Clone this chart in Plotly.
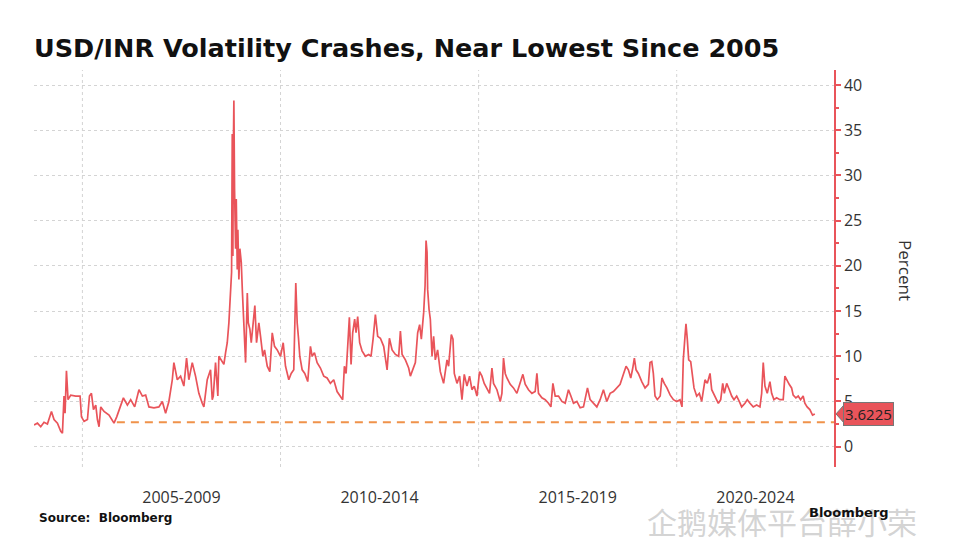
import datetime as dt
import plotly.graph_objects as go

# ---------------- data ----------------
years = [
    2003.781, 2003.867, 2003.950, 2004.033, 2004.119, 2004.185, 2004.220, 2004.285,
    2004.371, 2004.454, 2004.497, 2004.537, 2004.563, 2004.598, 2004.638, 2004.706,
    2004.832, 2004.941, 2004.976, 2005.042, 2005.127, 2005.178, 2005.228, 2005.279,
    2005.337, 2005.379, 2005.420, 2005.463, 2005.546, 2005.672, 2005.798, 2005.866,
    2005.949, 2006.035, 2006.136, 2006.219, 2006.320, 2006.428, 2006.514, 2006.597,
    2006.680, 2006.806, 2006.932, 2007.018, 2007.101, 2007.184, 2007.270, 2007.310,
    2007.396, 2007.479, 2007.562, 2007.630, 2007.688, 2007.774, 2007.857, 2007.941,
    2008.026, 2008.067, 2008.152, 2008.235, 2008.278, 2008.304, 2008.361, 2008.419,
    2008.445, 2008.530, 2008.571, 2008.614, 2008.656, 2008.697, 2008.740, 2008.765,
    2008.782, 2008.798, 2008.808, 2008.823, 2008.840, 2008.866, 2008.883, 2008.908,
    2008.924, 2008.949, 2008.974, 2009.009, 2009.035, 2009.060, 2009.093, 2009.118,
    2009.143, 2009.161, 2009.186, 2009.226, 2009.261, 2009.302, 2009.352, 2009.395,
    2009.453, 2009.496, 2009.554, 2009.597, 2009.665, 2009.730, 2009.791, 2009.849,
    2009.917, 2010.000, 2010.068, 2010.126, 2010.209, 2010.270, 2010.335, 2010.386,
    2010.421, 2010.454, 2010.487, 2010.547, 2010.613, 2010.688, 2010.756, 2010.799,
    2010.857, 2010.925, 2011.008, 2011.092, 2011.177, 2011.260, 2011.344, 2011.429,
    2011.512, 2011.570, 2011.613, 2011.656, 2011.697, 2011.739, 2011.782, 2011.823,
    2011.873, 2011.908, 2011.949, 2011.999, 2012.059, 2012.143, 2012.226, 2012.286,
    2012.337, 2012.395, 2012.453, 2012.521, 2012.604, 2012.690, 2012.748, 2012.816,
    2012.899, 2012.982, 2013.025, 2013.068, 2013.151, 2013.234, 2013.277, 2013.345,
    2013.403, 2013.461, 2013.511, 2013.554, 2013.612, 2013.648, 2013.673, 2013.698,
    2013.713, 2013.748, 2013.781, 2013.824, 2013.864, 2013.907, 2013.965, 2014.033,
    2014.116, 2014.202, 2014.242, 2014.311, 2014.353, 2014.386, 2014.454, 2014.520,
    2014.580, 2014.638, 2014.706, 2014.772, 2014.832, 2014.890, 2014.958, 2015.024,
    2015.084, 2015.142, 2015.211, 2015.276, 2015.337, 2015.377, 2015.463, 2015.546,
    2015.589, 2015.629, 2015.672, 2015.715, 2015.798, 2015.881, 2015.967, 2016.050,
    2016.118, 2016.176, 2016.259, 2016.345, 2016.428, 2016.471, 2016.511, 2016.597,
    2016.680, 2016.763, 2016.824, 2016.874, 2016.932, 2017.015, 2017.101, 2017.184,
    2017.267, 2017.328, 2017.394, 2017.479, 2017.562, 2017.646, 2017.747, 2017.814,
    2017.898, 2017.983, 2018.067, 2018.150, 2018.235, 2018.319, 2018.402, 2018.488,
    2018.571, 2018.654, 2018.722, 2018.780, 2018.840, 2018.891, 2018.931, 2018.974,
    2019.032, 2019.118, 2019.201, 2019.284, 2019.327, 2019.370, 2019.410, 2019.453,
    2019.511, 2019.584, 2019.627, 2019.686, 2019.753, 2019.836, 2019.918, 2020.000,
    2020.083, 2020.134, 2020.166, 2020.209, 2020.234, 2020.267, 2020.302, 2020.353,
    2020.393, 2020.436, 2020.504, 2020.570, 2020.630, 2020.671, 2020.713, 2020.771,
    2020.839, 2020.882, 2020.965, 2021.049, 2021.109, 2021.160, 2021.200, 2021.260,
    2021.326, 2021.386, 2021.444, 2021.512, 2021.578, 2021.638, 2021.722, 2021.780,
    2021.848, 2021.931, 2022.017, 2022.100, 2022.143, 2022.183, 2022.226, 2022.284,
    2022.352, 2022.395, 2022.453, 2022.521, 2022.604, 2022.687, 2022.730, 2022.773,
    2022.838, 2022.899, 2022.939, 2023.007, 2023.066, 2023.126, 2023.191, 2023.234,
    2023.292, 2023.360, 2023.428, 2023.486,
]
vol = [
    2.4, 2.6, 2.2, 2.7, 2.5, 3.5, 3.9, 3.0,
    2.6, 1.7, 1.5, 5.6, 3.7, 8.4, 5.2, 5.7,
    5.6, 5.6, 3.3, 2.8, 3.0, 5.6, 5.9, 4.1,
    4.6, 3.0, 2.2, 4.4, 3.9, 3.5, 2.6, 3.3,
    4.3, 5.4, 4.6, 5.2, 4.4, 6.3, 5.6, 5.7,
    4.4, 4.3, 4.4, 5.0, 3.7, 5.0, 7.4, 9.3,
    7.4, 7.8, 6.7, 9.8, 7.4, 9.3, 7.8, 5.9,
    4.8, 4.4, 7.4, 8.5, 5.2, 5.6, 9.3, 5.6,
    10.0, 9.3, 9.1, 10.4, 11.5, 13.7, 17.0, 19.3,
    34.6, 21.1, 32.2, 38.3, 28.5, 21.9, 27.4, 19.6,
    24.0, 18.5, 21.9, 20.4, 17.4, 14.4, 12.2, 9.3,
    13.7, 17.0, 13.7, 13.0, 11.5, 13.7, 15.6, 11.5,
    13.7, 12.2, 10.0, 10.7, 8.9, 8.3, 12.6, 11.1,
    10.7, 10.0, 11.5, 8.9, 7.4, 8.1, 8.5, 18.1,
    13.7, 12.0, 10.0, 8.5, 8.1, 7.2, 11.1, 10.0,
    10.4, 9.3, 8.7, 7.8, 7.6, 7.0, 7.4, 6.1,
    5.6, 5.2, 8.9, 8.1, 11.1, 14.3, 9.1, 12.6,
    14.1, 12.6, 14.4, 11.5, 10.6, 10.0, 10.2, 10.0,
    11.9, 14.6, 12.2, 12.0, 11.1, 8.5, 12.0, 10.7,
    10.2, 10.0, 12.8, 10.2, 9.6, 8.7, 7.8, 8.7,
    9.3, 12.6, 13.5, 11.9, 14.8, 17.8, 22.8, 21.5,
    17.4, 15.2, 14.1, 10.0, 12.2, 9.6, 10.7, 8.3,
    7.0, 9.6, 8.9, 12.4, 11.9, 8.1, 7.0, 7.8,
    5.2, 8.0, 6.7, 7.8, 6.3, 6.7, 5.6, 8.3,
    7.8, 7.0, 6.5, 5.9, 8.7, 7.0, 6.3, 5.0,
    5.9, 9.8, 8.1, 7.6, 6.9, 6.5, 5.9, 7.0,
    8.0, 6.9, 6.3, 5.9, 6.1, 8.1, 5.9, 5.4,
    5.2, 4.8, 4.4, 7.0, 5.6, 5.6, 5.0, 4.8,
    6.3, 5.6, 4.8, 5.0, 4.3, 4.4, 6.5, 5.2,
    4.8, 4.4, 5.2, 6.3, 5.0, 5.9, 6.1, 6.5,
    6.9, 8.0, 8.9, 8.5, 7.6, 8.7, 9.8, 8.5,
    8.1, 7.2, 6.5, 6.9, 9.3, 9.4, 8.1, 5.6,
    5.2, 5.6, 7.6, 7.0, 6.5, 5.7, 5.2, 5.0,
    5.2, 4.4, 9.6, 12.2, 13.6, 11.9, 9.6, 9.4,
    7.8, 6.5, 5.6, 5.9, 5.0, 6.3, 7.4, 7.0,
    8.1, 6.3, 5.6, 4.8, 5.2, 7.0, 5.9, 7.0,
    6.3, 5.6, 5.2, 5.6, 5.0, 4.4, 4.8, 5.2,
    4.8, 4.4, 4.6, 4.4, 5.9, 9.3, 6.7, 5.9,
    7.2, 5.9, 5.2, 5.4, 5.2, 5.2, 7.8, 7.4,
    6.9, 6.5, 5.7, 5.4, 5.6, 5.2, 5.6, 4.8,
    4.4, 4.1, 3.5, 3.6225,
]
last_value = 3.6225
low_level = 2.7
low_start = 2005.87
x_start, x_end = 2003.78, 2023.97
period_starts = [2005, 2010, 2015, 2020]
period_labels = ["2005-2009", "2010-2014", "2015-2019", "2020-2024"]
y_tick_step = 5

RED = "#e9545a"
ORANGE = "#f0924a"
GRID = "#d4d4d4"
TXT = "#333333"


def to_date(y):
    yi = int(y)
    start = dt.datetime(yi, 1, 1)
    end = dt.datetime(yi + 1, 1, 1)
    return start + (end - start) * (y - yi)


dates = [to_date(y) for y in years]
bounds = period_starts + [x_end]
mids = [to_date((a + b) / 2) for a, b in zip(bounds[:-1], bounds[1:])]

fig = go.Figure()
fig.add_trace(go.Scatter(x=dates, y=vol, mode="lines",
                         line=dict(color=RED, width=1.7), hoverinfo="skip"))
fig.add_trace(go.Scatter(x=[to_date(low_start), to_date(x_end)], y=[low_level, low_level],
                         mode="lines", line=dict(color=ORANGE, width=2, dash="8px,6px"),
                         hoverinfo="skip"))

for ps in period_starts:
    fig.add_shape(type="line", xref="x", yref="paper", x0=to_date(ps), x1=to_date(ps),
                  y0=0, y1=1, line=dict(color=GRID, width=1, dash="dot"), layer="below")

# last value tag
fig.add_shape(type="path", xref="paper", yref="y", xsizemode="pixel", ysizemode="pixel",
              xanchor=1, yanchor=last_value, path="M 2 0 L 10 -9 L 10 9 Z",
              fillcolor=RED, line=dict(color="#777", width=1))
fig.add_annotation(xref="paper", yref="y", x=1, y=last_value, xanchor="left", yanchor="middle",
                   xshift=9, text=f"{last_value:.4f}", showarrow=False,
                   bgcolor=RED, bordercolor="#777", borderwidth=1, borderpad=1,
                   font=dict(family="Open Sans", size=15, color="#222"))

fig.add_annotation(xref="paper", yref="paper", x=1.09, y=0.496, text="Percent",
                   textangle=90, showarrow=False, xanchor="center", yanchor="middle",
                   font=dict(family="Open Sans", size=17, color=TXT))
fig.add_annotation(xref="paper", yref="paper", x=0.004, y=-0.1285, text="<b>Source:  Bloomberg</b>",
                   showarrow=False, xanchor="left", yanchor="middle",
                   font=dict(family="DejaVu Sans", size=12, color="#111"))
# watermark / logo line at the bottom right
fig.add_annotation(xref="paper", yref="paper", x=0.764, y=-0.136, text="企鹅媒体平台薛小荣",
                   showarrow=False, xanchor="left", yanchor="middle",
                   font=dict(family="Noto Sans CJK SC", size=30, color="rgba(200,200,200,0.8)"))
fig.add_annotation(xref="paper", yref="paper", x=0.966, y=-0.115, text="<b>Bloomberg</b>",
                   showarrow=False, xanchor="left", yanchor="middle",
                   font=dict(family="DejaVu Sans", size=13, color="#111"))

fig.update_layout(
    width=952, height=545,
    margin=dict(l=26, r=126, t=62, b=86),
    paper_bgcolor="white", plot_bgcolor="white",
    showlegend=False,
    title=dict(text="<b>USD/INR Volatility Crashes, Near Lowest Since 2005</b>",
               x=26 / 952, xanchor="left", xref="container",
               y=1 - 40 / 545, yanchor="middle", yref="container",
               font=dict(family="DejaVu Sans", size=25.5, color="#111")),
)
fig.update_xaxes(type="date", range=[to_date(x_start), to_date(x_end)],
                 showgrid=False, zeroline=False, showline=False,
                 tickmode="array", tickvals=mids, ticktext=period_labels,
                 ticks="", ticklabelstandoff=19,
                 tickfont=dict(family="Open Sans", size=16, color=TXT))
fig.update_yaxes(side="right", range=[-2.25, 41.67], tickmode="linear", tick0=0, dtick=y_tick_step,
                 showline=True, linecolor=RED, linewidth=1.5,
                 ticks="outside", ticklen=5, tickcolor=RED, tickwidth=1.5,
                 minor=dict(dtick=y_tick_step / 2, ticks="outside", ticklen=3, tickcolor=RED, showgrid=False),
                 showgrid=True, gridcolor=GRID, griddash="dot", gridwidth=1,
                 zeroline=False,
                 tickfont=dict(family="Open Sans", size=16, color=TXT))

fig.write_html("out.html")
